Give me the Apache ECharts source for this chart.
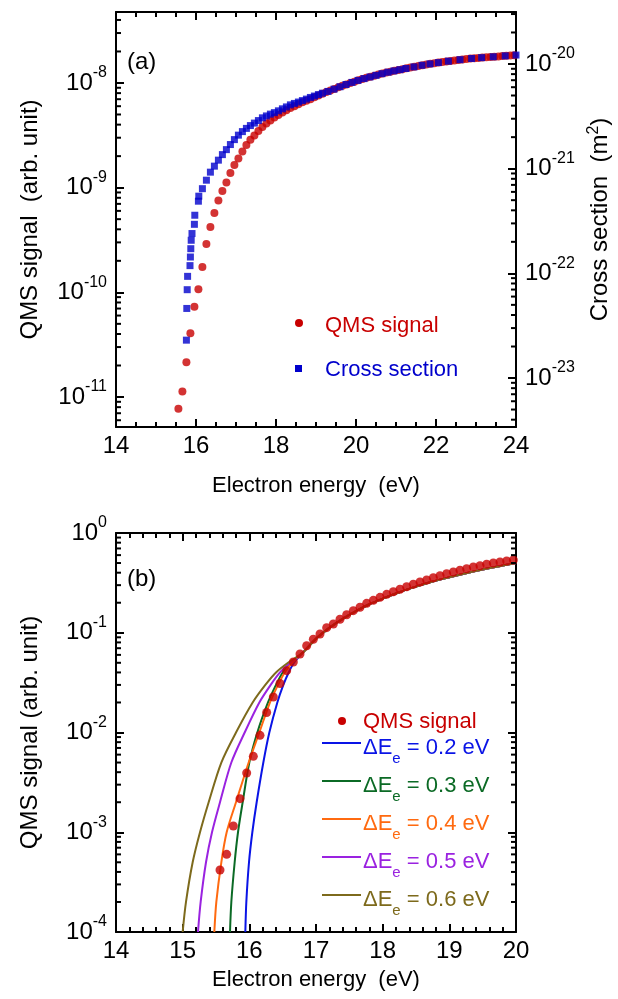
<!DOCTYPE html>
<html>
<head>
<meta charset="utf-8">
<script src="https://cdn.jsdelivr.net/npm/echarts@6.0.0/dist/echarts.min.js"></script>
<style>
  html, body { margin: 0; padding: 0; background: #fff; }
  #chart { width: 618px; height: 999px; }
</style>
</head>
<body>
<div id="chart"></div>
<script>
// ---- panel (a): QMS signal (left axis) and cross section (right axis)
const energyA = [15.56, 15.66, 15.76, 15.86, 15.96, 16.06, 16.16, 16.26, 16.36, 16.46,
  16.56, 16.66, 16.76, 16.86, 16.96, 17.06, 17.16, 17.26, 17.36, 17.46,
  17.56, 17.66, 17.76, 17.86, 17.96, 18.06, 18.16, 18.26, 18.36, 18.46,
  18.56, 18.66, 18.76, 18.86, 18.96, 19.06, 19.16, 19.26, 19.36, 19.46,
  19.56, 19.66, 19.76, 19.86, 19.96, 20.06, 20.16, 20.26, 20.36, 20.46,
  20.56, 20.66, 20.76, 20.86, 20.96, 21.06, 21.16, 21.26, 21.36, 21.46,
  21.56, 21.66, 21.76, 21.86, 21.96, 22.06, 22.16, 22.26, 22.36, 22.46,
  22.56, 22.66, 22.76, 22.86, 22.96, 23.06, 23.16, 23.26, 23.36, 23.46,
  23.56, 23.66, 23.76, 23.86, 23.96];
const qmsA = [7.74e-12, 1.127e-11, 2.15e-11, 4.06e-11, 7.30e-11, 1.07e-10, 1.75e-10, 2.90e-10, 4.21e-10, 5.73e-10,
  7.55e-10, 9.30e-10, 1.12e-9, 1.38e-9, 1.65e-9, 1.90e-9, 2.22e-9, 2.56e-9, 2.87e-9, 3.15e-9,
  3.48e-9, 3.80e-9, 4.09e-9, 4.37e-9, 4.67e-9, 4.95e-9, 5.23e-9, 5.50e-9, 5.76e-9, 6.00e-9,
  6.27e-9, 6.53e-9, 6.76e-9, 7.00e-9, 7.29e-9, 7.58e-9, 7.90e-9, 8.20e-9, 8.48e-9, 8.78e-9,
  9.10e-9, 9.40e-9, 9.69e-9, 1.00e-8, 1.03e-8, 1.06e-8, 1.09e-8, 1.12e-8, 1.146e-8, 1.174e-8,
  1.203e-8, 1.23e-8, 1.257e-8, 1.282e-8, 1.308e-8, 1.331e-8, 1.354e-8, 1.379e-8, 1.403e-8, 1.428e-8,
  1.453e-8, 1.479e-8, 1.502e-8, 1.525e-8, 1.546e-8, 1.566e-8, 1.586e-8, 1.608e-8, 1.626e-8, 1.644e-8,
  1.662e-8, 1.680e-8, 1.695e-8, 1.710e-8, 1.725e-8, 1.737e-8, 1.748e-8, 1.760e-8, 1.771e-8, 1.783e-8,
  1.795e-8, 1.807e-8, 1.819e-8, 1.831e-8, 1.843e-8];

const energyCross = [15.76, 15.77, 15.78, 15.79, 15.85, 15.86, 15.87, 15.88, 15.90, 15.96,
  15.97, 16.06, 16.07, 16.16, 16.26, 16.36, 16.46, 16.56, 16.66, 16.76,
  16.86, 16.96, 17.06, 17.16, 17.26, 17.36, 17.46, 17.56, 17.66, 17.76,
  17.86, 17.96, 18.06, 18.16, 18.26, 18.36, 18.46, 18.56, 18.66, 18.76,
  18.86, 18.96, 19.06, 19.16, 19.3, 19.45, 19.6, 19.75, 19.9, 20.05,
  20.2, 20.35, 20.5, 20.65, 20.8, 20.95, 21.1, 21.25, 21.45, 21.65,
  21.85, 22.06, 22.31, 22.6, 22.89, 23.14, 23.43, 23.73, 24.0];
const crossSection = [2.30e-23, 4.62e-23, 6.98e-23, 9.36e-23, 1.185e-22, 1.432e-22, 1.72e-22, 2.07e-22, 2.40e-22, 2.94e-22,
  3.59e-22, 4.89e-22, 5.46e-22, 6.44e-22, 7.76e-22, 9.26e-22, 1.057e-21, 1.206e-21, 1.362e-21, 1.52e-21,
  1.70e-21, 1.895e-21, 2.09e-21, 2.26e-21, 2.425e-21, 2.58e-21, 2.725e-21, 2.88e-21, 3.06e-21, 3.19e-21,
  3.32e-21, 3.43e-21, 3.57e-21, 3.73e-21, 3.89e-21, 4.07e-21, 4.20e-21, 4.33e-21, 4.47e-21, 4.62e-21,
  4.79e-21, 4.94e-21, 5.10e-21, 5.26e-21, 5.47e-21, 5.75e-21, 6.06e-21, 6.37e-21, 6.67e-21, 6.97e-21,
  7.25e-21, 7.52e-21, 7.79e-21, 8.08e-21, 8.35e-21, 8.59e-21, 8.82e-21, 9.06e-21, 9.38e-21, 9.72e-21,
  1.002e-20, 1.031e-20, 1.064e-20, 1.099e-20, 1.129e-20, 1.149e-20, 1.172e-20, 1.195e-20, 1.217e-20];

// ---- panel (b): normalised QMS signal and fits for several energy spreads
const energyB = [15.56, 15.66, 15.76, 15.86, 15.96, 16.06, 16.16, 16.26, 16.36, 16.46,
  16.56, 16.66, 16.76, 16.86, 16.96, 17.06, 17.16, 17.26, 17.36, 17.46,
  17.56, 17.66, 17.76, 17.86, 17.96, 18.06, 18.16, 18.26, 18.36, 18.46,
  18.56, 18.66, 18.76, 18.86, 18.96, 19.06, 19.16, 19.26, 19.36, 19.46,
  19.56, 19.66, 19.76, 19.86, 19.96];
const qmsB = [4.18e-4, 6.01e-4, 1.155e-3, 2.17e-3, 3.93e-3, 5.77e-3, 9.37e-3, 1.587e-2, 2.27e-2, 3.10e-2,
  4.17e-2, 5.09e-2, 6.12e-2, 7.40e-2, 8.60e-2, 9.72e-2, 0.1124, 0.1224, 0.1364, 0.1517,
  0.1664, 0.180, 0.1973, 0.2114, 0.2266, 0.2428, 0.2579, 0.2726, 0.2895, 0.3060,
  0.3227, 0.3379, 0.3563, 0.3731, 0.3908, 0.4064, 0.4227, 0.4386, 0.4561, 0.4700,
  0.4855, 0.5003, 0.5120, 0.5240, 0.5362];

// onset part of each fit: energies read at these signal levels; all fits share one tail
const fitLevels = [1e-4, 2e-4, 5e-4, 1e-3, 2e-3, 5e-3, 1e-2, 2e-2, 3e-2, 4e-2, 5e-2];
const fit02E = [15.94, 15.955, 15.995, 16.045, 16.11, 16.21, 16.30, 16.42, 16.51, 16.59, 16.67];
const fit03E = [15.71, 15.73, 15.78, 15.83, 15.90, 16.00, 16.12, 16.28, 16.40, 16.50, 16.62];
const fit04E = [15.475, 15.505, 15.58, 15.66, 15.80, 15.99, 16.15, 16.31, 16.43, 16.53, 16.64];
const fit05E = [15.23, 15.27, 15.35, 15.44, 15.56, 15.73, 15.93, 16.15, 16.32, 16.46, 16.61];
const fit06E = [15.00, 15.05, 15.15, 15.26, 15.39, 15.58, 15.80, 16.05, 16.24, 16.40, 16.58];
const fitTailE = [16.8, 17.0, 17.2, 17.4, 17.6, 17.8, 18.0, 18.25, 18.5, 18.75, 19.0, 19.25, 19.5, 19.75, 20.0];
const fitTailV = [6.3e-2, 8.7e-2, 0.112, 0.138, 0.165, 0.193, 0.22, 0.255, 0.29, 0.326, 0.36, 0.395, 0.43, 0.465, 0.50];
const fitLabels = ['0.2', '0.3', '0.4', '0.5', '0.6'];
const fitColors = ['#0a14e6', '#0b6a25', '#ff6a10', '#9a22e0', '#7d6a1c'];

const RED = '#c80000';
const BLUE = '#0000cc';
const FONT = '"Liberation Sans", Arial, sans-serif';

const chart = echarts.init(document.getElementById('chart'));

const pairs = (xs, ys) => xs.map((x, i) => [x, ys[i]]);
const powLabel = v => '{b|10}{s|' + Math.round(Math.log10(v)) + '}';
const powRich = {
  b: { fontSize: 24, lineHeight: 36, fontFamily: FONT, color: '#000' },
  s: { fontSize: 16, lineHeight: 15, verticalAlign: 'top', fontFamily: FONT, color: '#000' }
};
const axisLine = () => ({ show: true, onZero: false, lineStyle: { color: '#000', width: 2 } });
const axisTick = () => ({ show: true, inside: true, length: 8, lineStyle: { color: '#000', width: 2 } });

function xAxis(grid, max, interval, split, top, nameGap) {
  return {
    type: 'value', gridIndex: grid, min: 14, max: max, interval: interval,
    position: top ? 'top' : 'bottom',
    axisLine: axisLine(), axisTick: axisTick(),
    minorTick: { show: true, splitNumber: split, length: 5, lineStyle: { color: '#000', width: 2 } },
    splitLine: { show: false },
    axisLabel: { show: !top, margin: 7, fontSize: 24, fontFamily: FONT, color: '#000' },
    name: top ? '' : 'Electron energy  (eV)', nameLocation: 'middle', nameGap: nameGap,
    nameTextStyle: { fontSize: 22, fontFamily: FONT, color: '#000' }
  };
}
function yAxis(grid, min, max, right, labels, edgeLabels, name, nameGap) {
  return {
    type: 'log', gridIndex: grid, min: min, max: max,
    position: right ? 'right' : 'left',
    axisLine: axisLine(), axisTick: axisTick(), splitLine: { show: false },
    axisLabel: {
      show: labels, margin: 9, formatter: powLabel, rich: powRich,
      showMinLabel: edgeLabels, showMaxLabel: edgeLabels
    },
    name: name, nameLocation: 'middle', nameGap: nameGap, nameRotate: 90,
    nameTextStyle: {
      fontSize: 24, fontFamily: FONT, color: '#000',
      rich: {
        a: { fontSize: 24, fontFamily: FONT, color: '#000', lineHeight: 30 },
        s: { fontSize: 16, fontFamily: FONT, color: '#000', lineHeight: 12, verticalAlign: 'top' }
      }
    }
  };
}

const yA = [5.17e-12, 4.765e-8];
const yCross = [3.405e-24, 3.138e-20];
const yB = [1e-4, 1];

const fitE = [fit02E, fit03E, fit04E, fit05E, fit06E];

const series = [
  {
    type: 'scatter', xAxisIndex: 0, yAxisIndex: 0, symbol: 'circle', symbolSize: 8,
    itemStyle: { color: RED }, data: pairs(energyA, qmsA), z: 2
  },
  {
    type: 'scatter', xAxisIndex: 0, yAxisIndex: 1, symbol: 'rect', symbolSize: 7,
    itemStyle: { color: BLUE }, data: pairs(energyCross, crossSection), z: 3
  }
];
fitLabels.forEach((lab, i) => {
  series.push({
    type: 'line', xAxisIndex: 2, yAxisIndex: 2, showSymbol: false, smooth: 0.3,
    lineStyle: { color: fitColors[i], width: 2 }, z: 2,
    data: pairs(fitE[i], fitLevels).concat(pairs(fitTailE, fitTailV))
  });
});
series.push({
  type: 'scatter', xAxisIndex: 2, yAxisIndex: 2, symbol: 'circle', symbolSize: 9,
  itemStyle: { color: RED }, data: pairs(energyB, qmsB), z: 5
});

// short inward ticks at 2..9 of each decade, drawn on the log axes' own scale
function minorValues(range) {
  const out = [];
  for (let d = Math.floor(Math.log10(range[0])); d <= Math.ceil(Math.log10(range[1])); d++) {
    for (let m = 2; m <= 9; m++) {
      const v = m * Math.pow(10, d);
      if (v >= range[0] && v <= range[1]) out.push(v);
    }
  }
  return out;
}
function minorTickSeries(xIdx, yIdx, xEdge, range, dx) {
  return {
    type: 'custom', xAxisIndex: xIdx, yAxisIndex: yIdx, clip: false, z: 6,
    encode: { x: 0, y: 1 },
    data: minorValues(range).map(v => [xEdge, v]),
    renderItem: (params, api) => {
      const p = api.coord([api.value(0), api.value(1)]);
      return {
        type: 'line',
        shape: { x1: p[0], y1: p[1], x2: p[0] + dx, y2: p[1] },
        style: { stroke: '#000', lineWidth: 2 }
      };
    }
  };
}
series.push(minorTickSeries(0, 0, 14, yA, 5));
series.push(minorTickSeries(0, 1, 24, yCross, -5));
series.push(minorTickSeries(2, 2, 14, yB, 5));
series.push(minorTickSeries(2, 3, 20, yB, -5));

const textStyle = (t, color, size) => ({ text: t, fill: color, fontSize: size, fontFamily: FONT, verticalAlign: 'middle' });
const graphics = [];

// panel labels
graphics.push({ type: 'text', x: 127, y: 62, style: textStyle('(a)', '#000', 24) });
graphics.push({ type: 'text', x: 127, y: 579, style: textStyle('(b)', '#000', 24) });

// legend (a)
graphics.push({ type: 'circle', shape: { cx: 299, cy: 323, r: 4 }, style: { fill: RED } });
graphics.push({ type: 'text', x: 325, y: 326, style: textStyle('QMS signal', RED, 22) });
graphics.push({ type: 'rect', shape: { x: 295, y: 365, width: 7, height: 7 }, style: { fill: BLUE } });
graphics.push({ type: 'text', x: 325, y: 370, style: textStyle('Cross section', BLUE, 22) });

// legend (b)
graphics.push({ type: 'circle', shape: { cx: 342, cy: 721, r: 4 }, style: { fill: RED } });
graphics.push({ type: 'text', x: 363, y: 722, style: textStyle('QMS signal', RED, 22) });
fitLabels.forEach((lab, i) => {
  const y = 743 + i * 38;
  const c = fitColors[i];
  graphics.push({
    type: 'line', silent: true, shape: { x1: 322, y1: y, x2: 361, y2: y },
    style: { stroke: c, lineWidth: 2 }
  });
  graphics.push({
    type: 'text', x: 363, y: y + 5,
    style: {
      text: '{a|ΔE}{b|e}{a| = ' + lab + ' eV}', verticalAlign: 'middle',
      rich: {
        a: { fontSize: 22, fontFamily: FONT, fill: c, lineHeight: 36 },
        b: { fontSize: 15, fontFamily: FONT, fill: c, lineHeight: 10, verticalAlign: 'bottom' }
      }
    }
  });
});

chart.setOption({
  animation: false,
  backgroundColor: '#fff',
  grid: [
    { left: 116, top: 12, width: 400, height: 415, outerBoundsMode: 'none' },
    { left: 116, top: 533, width: 400, height: 399, outerBoundsMode: 'none' }
  ],
  xAxis: [
    xAxis(0, 24, 2, 4, false, 48),
    xAxis(0, 24, 2, 4, true, 0),
    xAxis(1, 20, 1, 5, false, 37),
    xAxis(1, 20, 1, 5, true, 0)
  ],
  yAxis: [
    yAxis(0, yA[0], yA[1], false, true, false, 'QMS signal  (arb. unit)', 74),
    yAxis(0, yCross[0], yCross[1], true, true, false, '{a|Cross section  (m}{s|2}{a|)}', 68),
    yAxis(1, yB[0], yB[1], false, true, true, 'QMS signal (arb. unit)', 74),
    yAxis(1, yB[0], yB[1], true, false, false, '', 0)
  ],
  series: series,
  graphic: graphics
});
</script>
</body>
</html>
